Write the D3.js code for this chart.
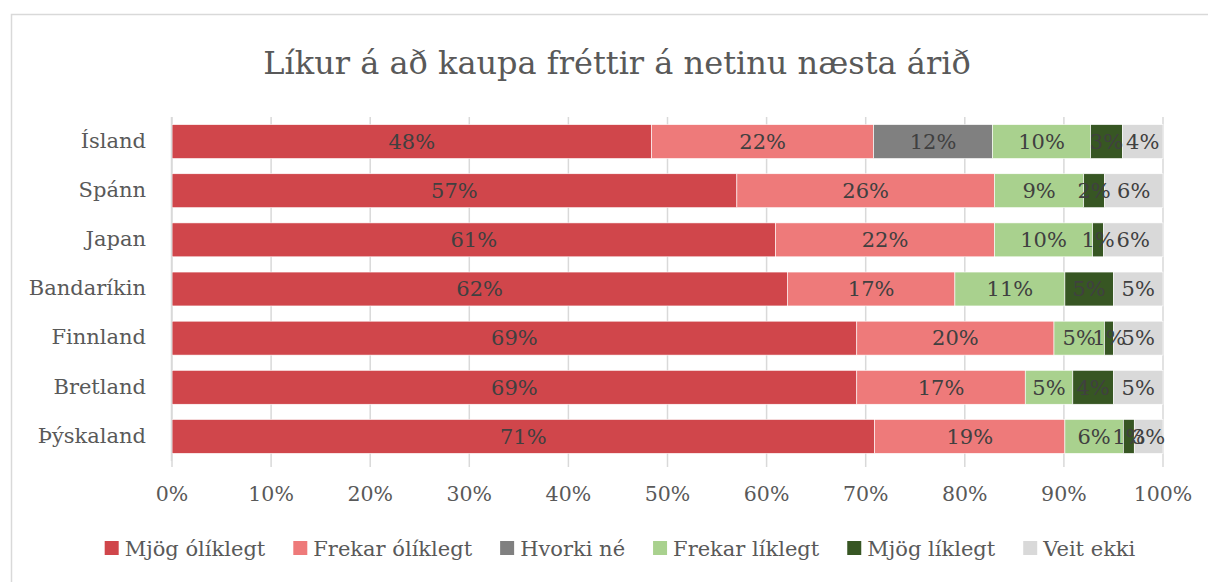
<!DOCTYPE html>
<html lang="is">
<head>
<meta charset="UTF-8">
<title>Líkur á að kaupa fréttir á netinu næsta árið</title>
<script src="https://d3js.org/d3.v7.min.js"></script>
<style>
  body { margin: 0; background: #fff; }
  text { font-family: "DejaVu Serif", serif; fill: #595959; }
</style>
</head>
<body>
<svg id="chart" width="1208" height="582"></svg>
<script>
// data
var countries = ["Ísland", "Spánn", "Japan", "Bandaríkin", "Finnland", "Bretland", "Þýskaland"];
var seriesNames = ["Mjög ólíklegt", "Frekar ólíklegt", "Hvorki né", "Frekar líklegt", "Mjög líklegt", "Veit ekki"];
var seriesColors = ["#d0464b", "#ee7a7a", "#808080", "#a9d18e", "#375623", "#d9d9d9"];
var veryUnlikely   = [48.4, 57.0, 60.9, 62.1, 69.1, 69.1, 70.9];
var ratherUnlikely = [22.4, 26.0, 22.1, 16.9, 19.9, 17.0, 19.2];
var neither        = [12.0,  0.0,  0.0,  0.0,  0.0,  0.0,  0.0];
var ratherLikely   = [ 9.9,  9.0,  9.9, 11.1,  5.1,  4.8,  5.9];
var veryLikely     = [ 3.2,  2.1,  1.1,  4.9,  0.9,  4.1,  1.1];
var dontKnow       = [ 4.1,  5.9,  6.0,  5.0,  5.0,  5.0,  2.9];
var xTicks = [0, 10, 20, 30, 40, 50, 60, 70, 80, 90, 100];

var series = [veryUnlikely, ratherUnlikely, neither, ratherLikely, veryLikely, dontKnow];
var rows = countries.map(function(c, i) {
  var r = { country: c };
  seriesNames.forEach(function(s, j) { r[s] = series[j][i]; });
  return r;
});

var svg = d3.select("#chart");
var margin = { left: 172, right: 45, top: 117, bottom: 121 };
var width = 1208, height = 582;

// chart border (only top and left visible)
svg.append("rect")
  .attr("x", 11.5).attr("y", 14.5)
  .attr("width", 1220).attr("height", 600)
  .attr("fill", "none").attr("stroke", "#d9d9d9").attr("stroke-width", 1.5);

svg.append("text")
  .attr("x", 617).attr("y", 74)
  .attr("text-anchor", "middle")
  .style("font-size", "32px")
  .text("Líkur á að kaupa fréttir á netinu næsta árið");

var x = d3.scaleLinear().domain([0, 100]).range([margin.left, width - margin.right]);
var y = d3.scaleBand().domain(countries)
  .range([margin.top, height - margin.bottom])
  .paddingInner(0.31).paddingOuter(0.155);

// gridlines
svg.append("g").selectAll("line")
  .data(xTicks)
  .join("line")
  .attr("x1", d => x(d)).attr("x2", d => x(d))
  .attr("y1", margin.top).attr("y2", height - margin.bottom + 6)
  .attr("stroke", "#d9d9d9").attr("stroke-width", 1.5);

var stack = d3.stack().keys(seriesNames)(rows);

var layers = svg.append("g").selectAll("g")
  .data(stack)
  .join("g")
  .attr("fill", (d, i) => seriesColors[i]);

layers.selectAll("rect")
  .data(d => d)
  .join("rect")
  .attr("x", d => x(d[0]))
  .attr("y", d => y(d.data.country))
  .attr("width", d => x(d[1]) - x(d[0]))
  .attr("height", y.bandwidth())
  .attr("stroke", "#fff").attr("stroke-width", 0.6);

// value labels
var labels = svg.append("g");
stack.forEach(function(layer) {
  labels.selectAll(null)
    .data(layer.filter(d => d[1] - d[0] > 0))
    .join("text")
    .attr("x", d => (x(d[0]) + x(d[1])) / 2)
    .attr("y", d => y(d.data.country) + y.bandwidth() / 2)
    .attr("dy", "0.35em")
    .attr("text-anchor", "middle")
    .style("font-size", "21px")
    .style("fill", "#404040")
    .text(d => Math.round(d[1] - d[0]) + "%");
});

// y axis
svg.append("line")
  .attr("x1", margin.left - 0.5).attr("x2", margin.left - 0.5)
  .attr("y1", margin.top).attr("y2", height - margin.bottom)
  .attr("stroke", "#d9d9d9").attr("stroke-width", 1.5);

svg.append("g").selectAll("text")
  .data(countries)
  .join("text")
  .attr("x", 146)
  .attr("y", d => y(d) + y.bandwidth() / 2)
  .attr("dy", "0.3em")
  .attr("text-anchor", "end")
  .style("font-size", "21px")
  .text(d => d);

// x axis labels
svg.append("g").selectAll("text")
  .data(xTicks)
  .join("text")
  .attr("x", d => x(d))
  .attr("y", 501)
  .attr("text-anchor", "middle")
  .style("font-size", "20.5px")
  .text(d => d + "%");

// legend
var legend = svg.append("g");
var lx = 0;
var items = legend.selectAll("g")
  .data(seriesNames)
  .join("g");
items.append("rect")
  .attr("width", 14).attr("height", 14)
  .attr("y", -8)
  .attr("fill", (d, i) => seriesColors[i]);
items.append("text")
  .attr("x", 20)
  .attr("dy", "0.35em")
  .style("font-size", "21px")
  .text(d => d);
items.each(function() {
  var g = d3.select(this);
  g.attr("transform", "translate(" + lx + ",0)");
  lx += 20 + g.select("text").node().getComputedTextLength() + 28;
});
lx -= 28;
legend.attr("transform", "translate(" + (620 - lx / 2) + ",549)");
</script>
</body>
</html>
